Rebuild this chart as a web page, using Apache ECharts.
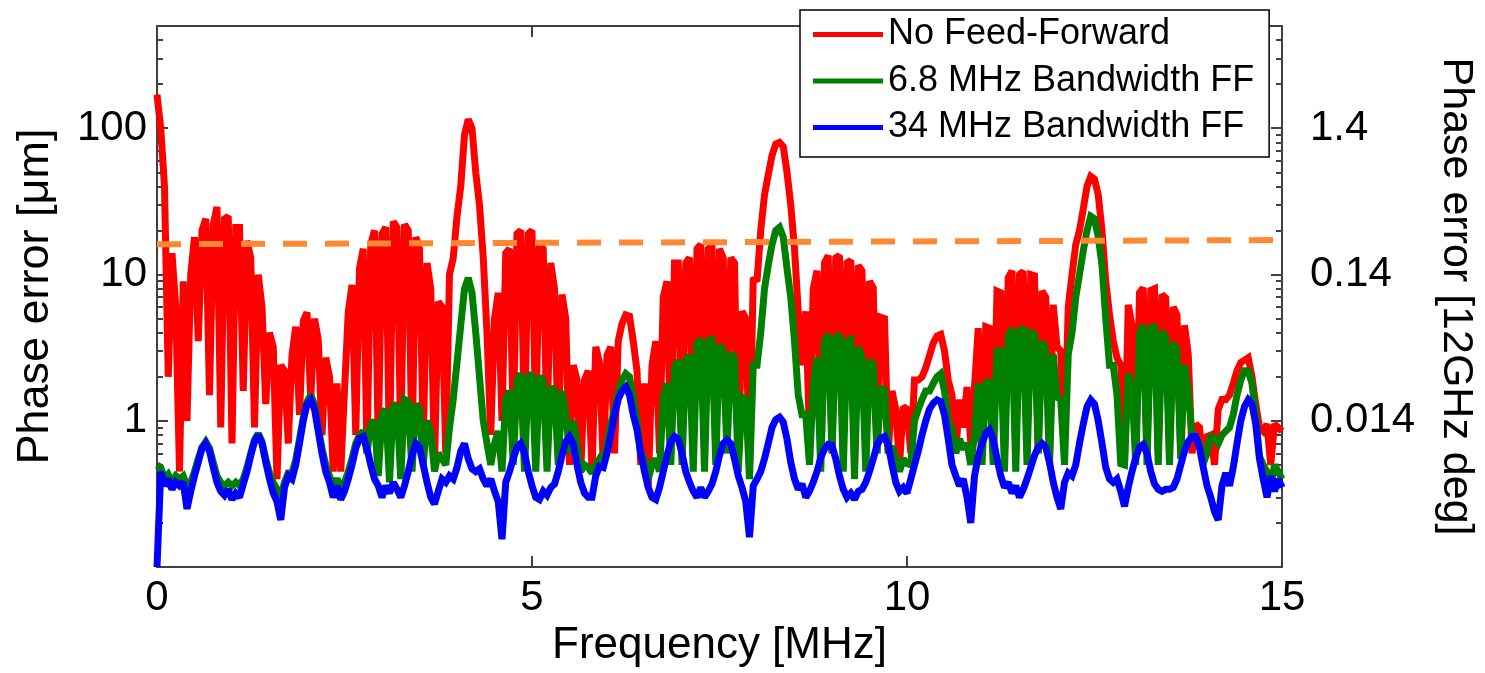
<!DOCTYPE html>
<html>
<head>
<meta charset="utf-8">
<script src="https://cdn.jsdelivr.net/npm/echarts@6/dist/echarts.min.js"></script>
<style>
html,body{margin:0;padding:0;background:#fff;}
#chart{width:1485px;height:673px;}
</style>
</head>
<body>
<div id="chart"></div>
<script>
// ---- data ----
const freqStep = 0.05; // MHz between successive samples, first sample at 0 MHz

const noFeedForward = [
  170,100,40,2.0,14,6,0.45,9,1.0,10,
  18,3.5,20,24,1.5,22,29,0.9,24,25,
  0.7,21,21,1.6,17,13,0.9,10,6,1.3,
  4,3.2,0.4,2.4,2.2,0.7,2.8,4.4,1.1,4.8,
  5.5,1.4,5.0,3.6,0.8,2.7,2.0,0.45,1.8,0.45,
  1.6,5.5,8.5,0.8,11,15,0.6,16,20,0.7,
  19,21,0.6,23,21,0.7,22,20,0.6,18,
  15,0.7,12,8,0.5,6.5,6,0.6,10,13,
  25,40,90,115,100,50,30,13,4,0.8,
  5,7.5,1.0,14,15,0.9,19,20,0.8,19,
  20,0.9,16,15,0.8,12,8,0.7,7.3,5,
  0.5,2.4,1.9,0.45,1.9,2.2,0.45,3.2,2.5,0.5,
  2.8,3.2,0.6,3.5,4.6,5.3,5.2,3.5,2.2,0.5,
  1.8,0.35,2.4,3.5,0.6,7,9,0.6,12,12,
  0.6,12,13,0.6,15,16,0.7,15,16,0.6,
  15,13,0.6,13,12,0.5,5.6,5,0.5,9.5,
  9,20,35,48,65,78,80,75,50,30,
  15,5.6,2.4,5.6,0.8,8,10.6,0.6,12,13.5,
  0.6,13,13.5,0.6,12,12.5,0.6,11.5,10.6,0.6,
  9,8.1,0.6,5.1,5,0.6,1.6,1.2,0.5,1.25,
  1.2,0.6,1.9,1.9,2.0,2.3,2.8,3.4,3.8,3.9,
  3.0,1.9,1.5,0.6,1.4,0.9,1.7,0.7,1.7,4.3,
  0.6,4.4,4.3,0.6,7.7,7.5,0.6,9.5,10.6,0.6,
  10,10.5,0.6,10,9.8,0.6,7.7,7,0.6,6.2,
  3.2,3.0,0.7,6,10,16,20,28,40,47,
  45,35,20,9,5.3,3.5,2.7,2.4,0.5,6.2,
  4.5,0.6,7.5,8.1,0.6,7.8,8,0.6,7.3,6.9,
  0.6,6,5.3,0.6,4.5,2.85,0.6,0.95,0.9,0.5,
  0.78,0.8,0.5,1.2,1.4,1.4,1.5,1.8,2.2,2.5,
  2.6,2.7,2.0,1.3,0.9,0.85,0.95,0.5,0.95,0.9,0.85
];

const ff68MHz = [
  0.5,0.48,0.4,0.43,0.38,0.42,0.4,0.42,0.36,0.38,
  0.45,0.55,0.66,0.72,0.65,0.52,0.42,0.38,0.36,0.38,
  0.36,0.38,0.36,0.4,0.48,0.6,0.74,0.82,0.72,0.55,
  0.44,0.38,0.34,0.3,0.38,0.44,0.44,0.54,0.75,1.05,
  1.35,1.5,1.3,0.9,0.65,0.5,0.42,0.36,0.4,0.36,
  0.38,0.45,0.55,0.7,0.8,0.85,0.6,0.95,1.0,0.42,
  1.1,1.2,0.38,1.3,1.25,0.4,1.4,1.35,0.45,1.3,
  1.2,0.5,1.0,0.85,0.45,0.6,0.55,0.5,0.9,1.4,
  2.5,4.5,8,9.5,7.5,4,2,1.0,0.7,0.5,
  0.7,0.85,0.45,1.4,1.6,0.5,1.9,2.1,0.45,2.0,
  2.1,0.45,2.0,1.9,0.45,1.7,1.6,0.5,1.6,1.1,
  0.6,1.0,0.7,0.45,0.5,0.48,0.44,0.5,0.55,0.5,
  0.7,0.95,1.2,1.55,1.9,2.1,2.0,1.4,1.0,0.6,
  0.55,0.4,0.5,0.55,0.45,1.45,1.8,0.5,2.3,2.6,
  0.5,2.6,2.8,0.45,3.4,3.6,0.45,3.5,3.7,0.5,
  3.3,3.0,0.6,2.9,2.7,0.45,1.45,1.4,0.4,2.4,
  2.4,4,8,11.6,16,20,21,18,11,7,
  3.5,1.5,1.1,1.1,0.5,1.7,2.7,0.45,3.5,3.9,
  0.6,3.7,3.9,0.45,3.5,3.6,0.4,3.2,2.7,0.45,
  2.6,2.4,0.6,1.7,1.6,0.6,0.67,0.55,0.45,0.55,
  0.51,0.5,1.0,1.2,1.4,1.6,1.6,1.8,2.0,2.1,
  1.6,1.0,0.87,0.6,0.75,0.64,0.7,0.5,0.8,1.8,
  0.5,1.8,1.9,0.5,3.0,3.0,0.45,3.8,4.3,0.45,
  4.1,4.35,0.5,4.0,3.9,0.6,3.5,3.0,0.5,2.85,
  1.45,1.4,0.5,2.85,4,7,10,14.5,20,25,
  24,18,11.6,5,2.4,2.4,1.5,0.51,0.5,2.1,
  1.7,0.5,4.0,4.5,0.5,4.3,4.5,0.5,4.1,3.7,
  0.5,3.4,3.0,0.55,2.4,1.6,0.8,0.78,0.7,0.51,
  0.6,0.8,0.75,0.7,0.8,0.85,0.9,1.1,1.5,1.9,
  2.2,2.2,1.8,1.1,0.57,0.5,0.45,0.35,0.5,0.45,0.4
];

const ff34MHz = [
  0.1,0.45,0.36,0.4,0.34,0.38,0.36,0.38,0.25,0.33,
  0.42,0.52,0.65,0.7,0.62,0.48,0.38,0.33,0.31,0.34,
  0.29,0.32,0.3,0.37,0.45,0.58,0.72,0.8,0.7,0.52,
  0.4,0.32,0.28,0.21,0.35,0.42,0.4,0.5,0.7,1.0,
  1.3,1.39,1.2,0.85,0.6,0.45,0.38,0.3,0.36,0.29,
  0.33,0.4,0.5,0.65,0.76,0.78,0.65,0.5,0.4,0.36,
  0.3,0.36,0.32,0.38,0.34,0.3,0.36,0.45,0.58,0.7,
  0.66,0.5,0.38,0.3,0.27,0.33,0.4,0.38,0.42,0.4,
  0.48,0.62,0.7,0.55,0.47,0.45,0.47,0.4,0.36,0.4,
  0.33,0.28,0.155,0.38,0.45,0.55,0.66,0.7,0.6,0.45,
  0.36,0.3,0.29,0.33,0.31,0.35,0.37,0.45,0.58,0.72,
  0.78,0.7,0.5,0.38,0.32,0.3,0.3,0.42,0.49,0.48,
  0.6,0.8,1.1,1.4,1.6,1.7,1.5,1.1,0.87,0.6,
  0.45,0.35,0.3,0.29,0.35,0.45,0.58,0.72,0.78,0.75,
  0.6,0.45,0.38,0.33,0.3,0.35,0.3,0.33,0.37,0.45,
  0.58,0.7,0.74,0.7,0.55,0.42,0.35,0.28,0.16,0.36,
  0.4,0.45,0.55,0.7,0.9,1.02,1.06,0.98,0.75,0.52,
  0.4,0.34,0.37,0.3,0.33,0.38,0.45,0.56,0.64,0.69,
  0.68,0.55,0.42,0.34,0.3,0.32,0.29,0.33,0.34,0.38,
  0.45,0.55,0.68,0.76,0.78,0.68,0.5,0.38,0.33,0.35,
  0.32,0.4,0.5,0.62,0.8,1.0,1.2,1.32,1.39,1.35,
  1.1,0.75,0.5,0.42,0.36,0.4,0.3,0.2,0.42,0.57,
  0.7,0.82,0.87,0.75,0.55,0.42,0.35,0.38,0.32,0.36,
  0.3,0.34,0.4,0.48,0.58,0.66,0.7,0.66,0.52,0.38,
  0.3,0.25,0.38,0.44,0.42,0.5,0.7,0.95,1.25,1.39,
  1.3,1.0,0.7,0.48,0.4,0.38,0.4,0.33,0.26,0.35,
  0.45,0.56,0.66,0.69,0.6,0.45,0.37,0.34,0.33,0.34,
  0.34,0.35,0.4,0.5,0.62,0.72,0.78,0.78,0.65,0.48,
  0.36,0.3,0.24,0.21,0.36,0.44,0.36,0.48,0.7,1.0,
  1.25,1.39,1.3,0.95,0.55,0.4,0.3,0.42,0.33,0.4,0.35
];

const thresholdFreq = [0, 15];
const thresholdLevel = [16.1, 17.2];

const seriesNames = ['No Feed-Forward', '6.8 MHz Bandwidth FF', '34 MHz Bandwidth FF'];
const seriesColors = ['#ff0000', '#008000', '#0000ff'];

const xMin = 0, xMax = 15, xInterval = 5;
const yMin = 0.1, yMax = 500;
const leftMajorTicks = [1, 10, 100];
const minorTicks = [0.2,0.3,0.4,0.5,0.6,0.7,0.8,0.9, 2,3,4,5,6,7,8,9, 20,30,40,50,60,70,80,90, 200,300,400];
const umToDeg = 0.014; // 1 um -> 0.014 deg at 12 GHz
const rightTickLabels = [0.014, 0.14, 1.4];

// ---- chart ----
const FONT = 'Liberation Sans, Arial, sans-serif';
const frameColor = '#404040';
const lineFrame = {show: true, onZero: false, lineStyle: {color: frameColor, width: 2}};
const tickStyle = {color: frameColor, width: 2};
const dataLineWidth = 7;

function toPairs(vals) {
  return vals.map((v, i) => [Math.round(i * freqStep * 100) / 100, v]);
}

const chart = echarts.init(document.getElementById('chart'), null, {renderer: 'canvas'});

const option = {
  animation: false,
  backgroundColor: '#ffffff',
  textStyle: {fontFamily: FONT},
  grid: {left: 157, right: 200, top: 26, bottom: 102},
  legend: {
    data: seriesNames,
    orient: 'vertical',
    left: 800,
    top: 10,
    itemWidth: 70,
    itemHeight: 5,
    icon: 'rect',
    itemGap: 9.5,
    padding: [6, 15, 11, 13],
    backgroundColor: '#ffffff',
    borderColor: '#000000',
    borderWidth: 1.5,
    borderRadius: 0,
    textStyle: {fontSize: 36, color: '#000', fontFamily: FONT, lineHeight: 37},
    z: 20
  },
  xAxis: [
    {
      type: 'value', position: 'bottom', min: xMin, max: xMax, interval: xInterval,
      axisLine: lineFrame,
      axisTick: {inside: true, length: 11, lineStyle: tickStyle},
      axisLabel: {fontSize: 42, color: '#000', margin: 10, fontFamily: FONT},
      splitLine: {show: false},
      name: 'Frequency [MHz]', nameLocation: 'middle', nameGap: 33,
      nameTextStyle: {fontSize: 44, color: '#000', fontFamily: FONT}
    },
    {
      type: 'value', position: 'top', min: xMin, max: xMax, interval: xInterval,
      axisLine: lineFrame,
      axisTick: {inside: true, length: 11, lineStyle: tickStyle},
      axisLabel: {show: false},
      splitLine: {show: false}
    }
  ],
  yAxis: [
    {
      type: 'log', logBase: 10, min: yMin, max: yMax, position: 'left',
      axisLine: lineFrame,
      axisTick: {inside: true, length: 11, customValues: leftMajorTicks, lineStyle: tickStyle},
      axisLabel: {customValues: leftMajorTicks, fontSize: 42, color: '#000', margin: 10, fontFamily: FONT,
        formatter: v => String(+(+v).toPrecision(6))},
      splitLine: {show: false},
      name: 'Phase error [μm]', nameLocation: 'middle', nameGap: 99,
      nameTextStyle: {fontSize: 45, color: '#000', fontFamily: FONT}
    },
    {
      type: 'log', logBase: 10, min: yMin, max: yMax, position: 'left',
      axisLine: {show: false, onZero: false},
      axisTick: {inside: true, length: 6, customValues: minorTicks, lineStyle: tickStyle},
      axisLabel: {show: false},
      splitLine: {show: false}
    },
    {
      type: 'log', logBase: 10, min: yMin * umToDeg, max: yMax * umToDeg, position: 'right',
      axisLine: lineFrame,
      axisTick: {inside: true, length: 11, customValues: rightTickLabels, lineStyle: tickStyle},
      axisLabel: {customValues: rightTickLabels, fontSize: 42, color: '#000', margin: 28, fontFamily: FONT,
        formatter: v => String(+(+v).toPrecision(6))},
      splitLine: {show: false},
      name: 'Phase error [12GHz deg]', nameLocation: 'middle', nameRotate: -90, nameGap: 152,
      nameTextStyle: {fontSize: 43, color: '#000', fontFamily: FONT}
    },
    {
      type: 'log', logBase: 10, min: yMin, max: yMax, position: 'right',
      axisLine: {show: false, onZero: false},
      axisTick: {inside: true, length: 6, customValues: minorTicks, lineStyle: tickStyle},
      axisLabel: {show: false},
      splitLine: {show: false}
    }
  ],
  series: [
    {
      name: seriesNames[0], type: 'line', xAxisIndex: 0, yAxisIndex: 0,
      data: toPairs(noFeedForward), symbol: 'none', showSymbol: false,
      lineStyle: {color: seriesColors[0], width: dataLineWidth, join: 'miter', miterLimit: 2},
      itemStyle: {color: seriesColors[0]}, z: 2
    },
    {
      name: seriesNames[1], type: 'line', xAxisIndex: 0, yAxisIndex: 0,
      data: toPairs(ff68MHz), symbol: 'none', showSymbol: false,
      lineStyle: {color: seriesColors[1], width: dataLineWidth, join: 'miter', miterLimit: 2},
      itemStyle: {color: seriesColors[1]}, z: 3
    },
    {
      name: seriesNames[2], type: 'line', xAxisIndex: 0, yAxisIndex: 0,
      data: toPairs(ff34MHz), symbol: 'none', showSymbol: false,
      lineStyle: {color: seriesColors[2], width: dataLineWidth, join: 'miter', miterLimit: 2},
      itemStyle: {color: seriesColors[2]}, z: 4
    },
    {
      name: 'threshold', type: 'line', xAxisIndex: 0, yAxisIndex: 0,
      data: thresholdFreq.map((f, i) => [f, thresholdLevel[i]]),
      symbol: 'none', showSymbol: false,
      lineStyle: {color: '#ff8833', width: 6, type: [24, 18]}, z: 5
    }
  ]
};

chart.setOption(option);
</script>
</body>
</html>
